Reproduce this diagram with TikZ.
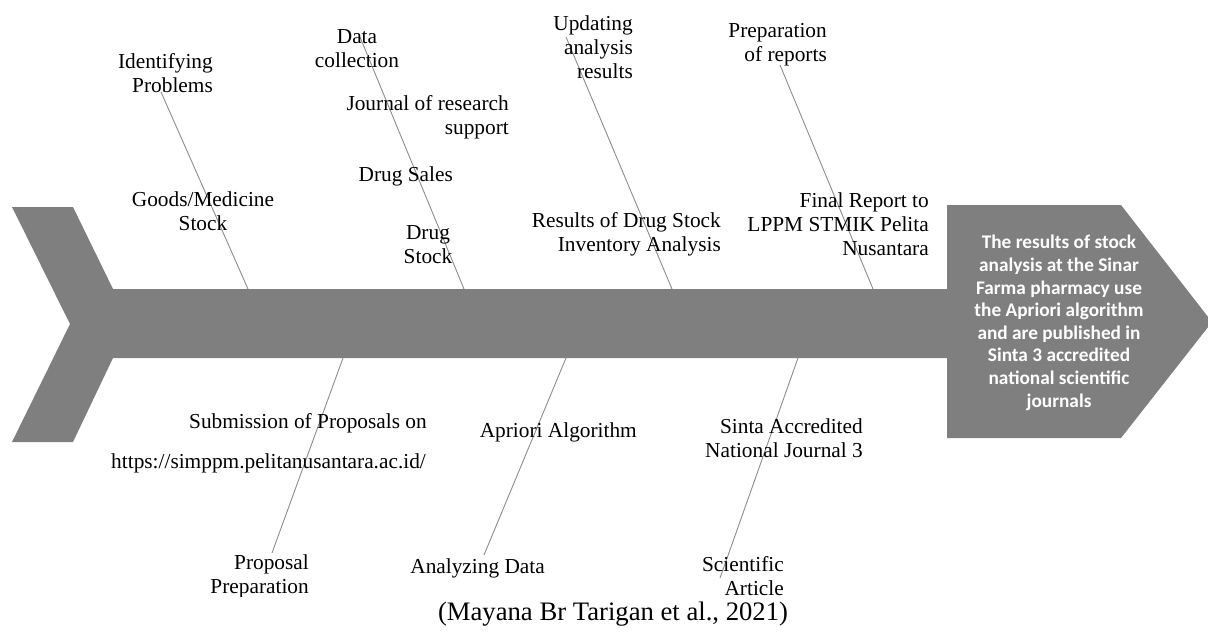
\documentclass[tikz,border=0pt]{standalone}
\usepackage{fontspec}
\setmainfont{Liberation Serif}
\newfontfamily\headfont{Carlito}
\definecolor{spinegray}{RGB}{127,127,127}
\definecolor{bonegray}{RGB}{140,140,140}
\tikzset{
  lbl/.style={font=\fontsize{21.33}{24}\selectfont, inner sep=0pt, align=right, anchor=base east},
  lblc/.style={font=\fontsize{21.33}{24}\selectfont, inner sep=0pt, align=center, anchor=base},
  bone/.style={draw=bonegray, line width=0.9pt},
  headtext/.style={font=\headfont\bfseries\fontsize{19.3}{22.6}\selectfont, text=white, align=center, inner sep=0pt, anchor=base},
  cite/.style={font=\fontsize{26.67}{30}\selectfont, inner sep=0pt, anchor=base}
}
\begin{document}
\begin{tikzpicture}[x=1pt,y=-1pt]
\useasboundingbox (0,0) rectangle (1208,632);
\begin{scope}
\clip (0,0) rectangle (1208,632);
% tail + spine
\fill[spinegray] (12,207) -- (73,207) -- (113,289) -- (948,289) -- (948,358) -- (113,358) -- (73,442) -- (12,442) -- (70,324) -- cycle;
% head
\fill[spinegray] (947,205) -- (1121,205) -- (1212,322) -- (1121,438) -- (947,438) -- cycle;
\end{scope}
\node[headtext] (head) at (1059,407) {The results of stock\\analysis at the Sinar\\Farma pharmacy use\\the Apriori algorithm\\and are published in\\Sinta 3 accredited\\national scientific\\journals};

% bones
\coordinate (b1t) at (161,92);  \coordinate (b1s) at (248,289);
\coordinate (b2t) at (360,37);  \coordinate (b2s) at (464,289);
\coordinate (b3t) at (566,37);  \coordinate (b3s) at (672,289);
\coordinate (b4t) at (780,65);  \coordinate (b4s) at (873,289);
\coordinate (b5s) at (343,358); \coordinate (b5b) at (272,553);
\coordinate (b6s) at (566,358); \coordinate (b6b) at (484,555);
\coordinate (b7s) at (798,358); \coordinate (b7b) at (720,578);
\foreach \a/\b in {b1t/b1s,b2t/b2s,b3t/b3s,b4t/b4s,b5s/b5b,b6s/b6b,b7s/b7b}
  \draw[bone] (\a) -- (\b);

\begin{scope}
\clip (0,0) rectangle (1208,596);
\node[lbl] (idp) at (213,92) {Identifying\\Problems};
\node[lblc] (dc) at (357,67) {Data\\collection};
\node[lbl] (jrs) at (509,134) {Journal of research\\support};
\node[lbl] (ds) at (453,181) {Drug Sales};
\node[lblc] (dst) at (428,263) {Drug\\Stock};
\node[lblc] (gms) at (203,230) {Goods/Medicine\\Stock};
\node[lbl] (uar) at (633,78) {Updating\\analysis\\results};
\node[lbl] (por) at (827,61) {Preparation\\of reports};
\node[lbl] (rds) at (721,251) {Results of Drug Stock\\Inventory Analysis};
\node[lbl] (frl) at (929,255) {Final Report to\\LPPM STMIK Pelita\\Nusantara};
\node[lbl] (sub) at (427,428) {Submission of Proposals on};
\node[lbl] (url) at (426,468) {https://simppm.pelitanusantara.ac.id/};
\node[lbl] (apr) at (637,437) {Apriori Algorithm};
\node[lbl] (pp) at (309,593) {Proposal\\Preparation};
\node[lbl] (ad) at (545,573) {Analyzing Data};
\node[lbl] (san) at (863,457) {Sinta Accredited\\National Journal 3};
\node[lbl] (sa) at (784,595) {Scientific\\Article};
\end{scope}
\node[cite] (cit) at (613,620) {(Mayana Br Tarigan et al., 2021)};
\end{tikzpicture}
\end{document}
